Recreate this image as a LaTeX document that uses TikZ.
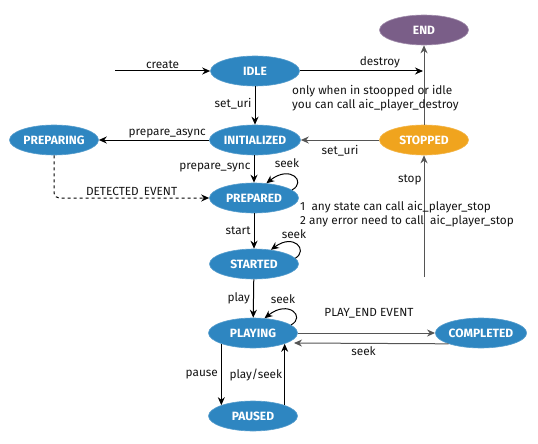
\documentclass[tikz,border=0pt]{standalone}
\usepackage{fontspec}
\setmainfont{Fira Sans}
\usetikzlibrary{shapes.geometric,arrows.meta}
\definecolor{stblue}{RGB}{46,134,193}
\definecolor{stpurple}{RGB}{122,94,136}
\definecolor{storange}{RGB}{240,164,30}
\definecolor{txt}{RGB}{20,20,20}
\definecolor{gline}{RGB}{85,85,85}
\tikzset{
  state/.style={ellipse, fill=stblue, draw=stblue!80!white, line width=0.6pt, minimum width=89pt, minimum height=30pt, inner sep=0pt, text=white, font=\fontsize{12}{14}\selectfont\bfseries},
  lbl/.style={text=txt, font=\fontsize{11.8}{14.5}\selectfont, inner sep=1pt},
  conn/.style={-{Stealth[length=8pt,width=7pt]}, line width=1pt, draw=black},
  gconn/.style={conn, draw=gline},
}
\begin{document}
\begin{tikzpicture}[x=1pt,y=-1pt]
\useasboundingbox (0,0) rectangle (538,444);
% states
\node[state, fill=stpurple, draw=stpurple!70!white] (END) at (424,30) {END};
\node[state] (IDLE) at (255,71) {IDLE};
\node[state, minimum width=91pt] (INIT) at (255,140) {INITIALIZED};
\node[state] (PREPARING) at (54,140) {PREPARING};
\node[state, fill=storange, draw=storange!80!white] (STOPPED) at (424,140) {STOPPED};
\node[state] (PREPARED) at (254,198) {PREPARED};
\node[state] (STARTED) at (254,264) {STARTED};
\node[state] (PLAYING) at (253,333) {PLAYING};
\node[state] (COMPLETED) at (481,333) {COMPLETED};
\node[state] (PAUSED) at (253,416) {PAUSED};
% free ends
\coordinate (cstart) at (115,71);
\coordinate (dend) at (423,71);
\coordinate (stopbase) at (424,277);
\coordinate (seekend) at (294,343);
% connectors
\draw[conn] (cstart) -- node[lbl, above=1pt, pos=0.5] {create} (IDLE);
\draw[conn] (IDLE) -- node[lbl, above=1pt, pos=0.65] {destroy} (dend);
\draw[gconn] (STOPPED) -- (END);
\draw[conn] (IDLE) -- node[lbl, left=2pt, pos=0.45] {set\_uri} (INIT);
\draw[conn] (INIT) -- node[lbl, above=0pt, pos=0.38] {prepare\_async} (PREPARING);
\draw[gconn] (STOPPED) -- node[lbl, below=4pt, pos=0.5] {set\_uri} (INIT);
\draw[conn] (INIT.south -| PREPARED.north) -- node[lbl, left=2pt, pos=0.45] {prepare\_sync} (PREPARED.north);
\draw[conn, dashed, rounded corners=5pt] (PREPARING.south) -- (PREPARING.south |- PREPARED.west) -- node[lbl, above=1pt, pos=0.5] {DETECTED\hspace{5pt}EVENT} (PREPARED.west);
\draw[conn] (PREPARED.12) .. controls +(15,-8) and +(24,-19) .. (PREPARED.50);
\node[lbl] (seek1) at (287,163) {seek};
\draw[gconn] (stopbase) -- node[lbl, left=1pt, pos=0.8] {stop} (STOPPED);
\draw[conn] (PREPARED) -- node[lbl, left=2pt, pos=0.5] {start} (STARTED);
\draw[conn] (STARTED.8) .. controls +(13,-8) and +(23,-17) .. (STARTED.40);
\node[lbl] (seek2) at (294,234) {seek};
\draw[conn] (STARTED) -- node[lbl, left=2pt, pos=0.5] {play} (PLAYING);
\draw[conn] (PLAYING.12) .. controls +(15,-8) and +(24,-19) .. (PLAYING.52);
\node[lbl] (seek3) at (283,299) {seek};
\draw[gconn] (PLAYING.east) -- (COMPLETED.west);
\node[lbl] (pe) at (369,313) {PLAY\_END EVENT};
\draw[gconn] (COMPLETED.south west) -- node[lbl, below=2pt, pos=0.55] {seek} (seekend);
\draw[conn] (PLAYING.south west) -- node[lbl, left=2pt, pos=0.5] {pause} (PAUSED.north west);
\draw[conn] (PAUSED.north east) -- node[lbl, left=1pt, pos=0.5] {play/seek} (PLAYING.south east);
% notes
\node[lbl, anchor=west, align=left] (note1) at (291,98) {only when in stoopped or idle\\you can call aic\_player\_destroy};
\node[lbl, anchor=west, align=left] (note2) at (299,214) {1\ \ any state can call aic\_player\_stop\\2 any error need to call\ \ aic\_player\_stop};
\end{tikzpicture}
\end{document}
